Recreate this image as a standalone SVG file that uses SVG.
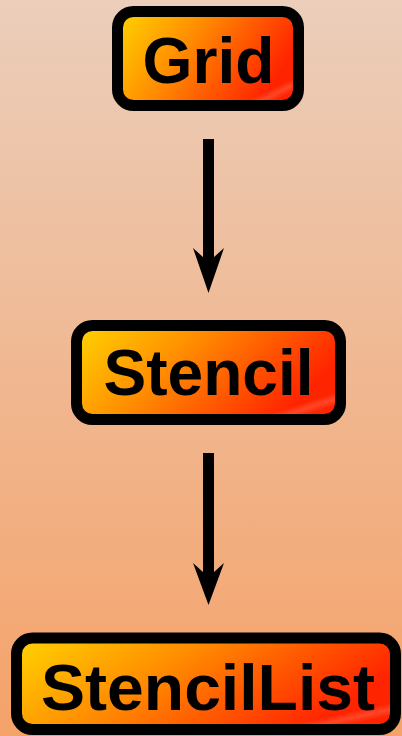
<svg xmlns="http://www.w3.org/2000/svg" width="402" height="736" viewBox="0 0 402 736">
<defs>
<linearGradient id="bg" x1="0" y1="0" x2="0" y2="1">
<stop offset="0" stop-color="#EBCEBB"/>
<stop offset="1" stop-color="#F5A269"/>
</linearGradient>
<linearGradient id="fill" x1="0" y1="0" x2="1" y2="0.35">
<stop offset="0" stop-color="#FFD500"/>
<stop offset="0.45" stop-color="#FF8C00"/>
<stop offset="1" stop-color="#FF2400"/>
</linearGradient>
<linearGradient id="gloss" x1="0" y1="0" x2="1" y2="1">
<stop offset="0" stop-color="#FFFFFF" stop-opacity="0"/>
<stop offset="0.87" stop-color="#FFFFFF" stop-opacity="0"/>
<stop offset="0.91" stop-color="#FFFFFF" stop-opacity="0.16"/>
<stop offset="0.95" stop-color="#FFFFFF" stop-opacity="0"/>
<stop offset="1" stop-color="#FFFFFF" stop-opacity="0"/>
</linearGradient>
</defs>
<style>
.box{fill:url(#fill);stroke:#000;stroke-width:11}
.gl{fill:url(#gloss);stroke:none}
.lbl{font-family:"Liberation Sans",Arial,sans-serif;font-weight:bold;font-size:64px;fill:#000;text-anchor:middle}
.edge{stroke:#000;stroke-width:11;fill:none}
.ah{fill:#000}
</style>
<rect x="0" y="0" width="402" height="736" fill="url(#bg)"/>
<g id="edges">
<g id="e1">
<line class="edge" x1="208.5" y1="139" x2="208.5" y2="262"/>
<path class="ah" d="M193,248 L208.5,293 L224,248 L208.5,262 Z"/>
</g>
<g id="e2">
<line class="edge" x1="208.5" y1="453" x2="208.5" y2="577"/>
<path class="ah" d="M193,563 L208.5,605 L224,563 L208.5,577 Z"/>
</g>
</g>
<g id="grid">
<rect class="box" x="117.5" y="11.5" width="181" height="94" rx="16"/>
<rect class="gl" x="123" y="17" width="170" height="83" rx="11"/>
<text class="lbl" x="208.5" y="83" textLength="132" lengthAdjust="spacingAndGlyphs">Grid</text>
</g>
<g id="stencil">
<rect class="box" x="76.5" y="325.5" width="264" height="94" rx="16"/>
<rect class="gl" x="82" y="331" width="253" height="83" rx="11"/>
<text class="lbl" x="208.5" y="395" textLength="210" lengthAdjust="spacingAndGlyphs">Stencil</text>
</g>
<g id="stencillist">
<rect class="box" x="16.5" y="638" width="379" height="91.5" rx="16"/>
<rect class="gl" x="22" y="643.5" width="368" height="80.5" rx="11"/>
<text class="lbl" x="208" y="710" textLength="334" lengthAdjust="spacingAndGlyphs">StencilList</text>
</g>
</svg>
